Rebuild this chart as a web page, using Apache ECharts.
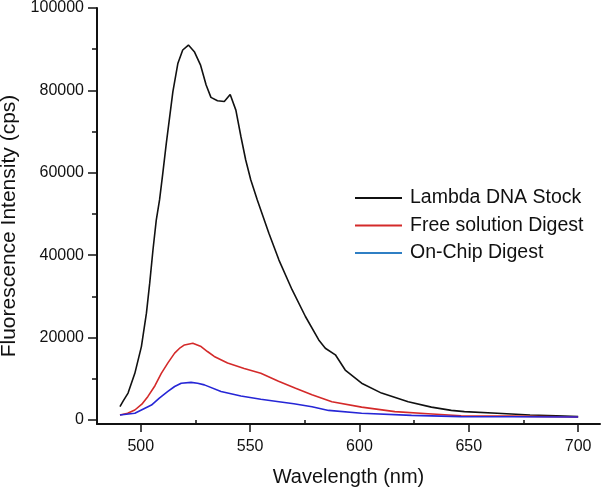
<!DOCTYPE html>
<html>
<head>
<meta charset="utf-8">
<script src="https://cdn.jsdelivr.net/npm/echarts@6/dist/echarts.min.js"></script>
<style>
html,body{margin:0;padding:0;background:#fff;}
#chart{width:604px;height:491px;}
</style>
</head>
<body>
<div id="chart"></div>
<script>
var xMajorTicks = [500, 550, 600, 650, 700];
var xMinorTicks = [525, 575, 625, 675];
var yMajorTicks = [0, 20000, 40000, 60000, 80000, 100000];
var yMinorTicks = [10000, 30000, 50000, 70000, 90000];

var seriesNames = ['Lambda DNA Stock', 'Free solution Digest', 'On-Chip Digest'];

var stockWl  = [490.5, 492, 494.2, 497.3, 500.3, 502.6, 504.1, 505.6, 507.1, 508.6, 510, 511.7, 514.7, 517, 519.2, 521.8, 524.5, 527.3, 529.9, 532.1, 535.1, 538.2, 540.9, 543.5, 545.8, 548, 550.3, 553.3, 558.6, 563.2, 569.2, 575.3, 581.4, 584.4, 589, 593.5, 601, 610.1, 622.3, 632.9, 642, 648, 663, 678, 690, 700];
var stockVal = [3200, 4600, 6500, 11300, 17800, 25900, 33200, 41300, 48500, 53400, 59500, 67200, 79700, 86600, 89800, 91000, 89400, 86200, 81300, 78300, 77500, 77300, 79000, 75200, 68800, 63100, 58300, 53400, 45300, 38800, 31600, 25100, 19400, 17400, 15800, 12100, 8900, 6500, 4400, 3100, 2300, 2000, 1600, 1200, 1000, 800];

var freeWl  = [490.5, 494, 497.3, 500.5, 503.3, 506.5, 509.4, 512.5, 515.5, 518, 520, 523.8, 527.6, 530.5, 533.6, 539.7, 547.3, 554.9, 563, 570.8, 578.3, 587.4, 601, 616.2, 631.4, 646.5, 670, 700];
var freeVal = [1200, 1600, 2400, 3800, 5700, 8300, 11300, 13900, 16200, 17500, 18200, 18600, 17800, 16600, 15400, 13800, 12500, 11300, 9400, 7700, 6100, 4400, 3100, 2000, 1500, 1000, 900, 700];

var chipWl  = [490.5, 497.3, 504.9, 508.5, 512.4, 515.5, 518.5, 523, 526, 529.1, 536.7, 545.8, 554.9, 563.2, 570, 578.3, 585.9, 601, 623.8, 646.5, 670, 700];
var chipVal = [1200, 1600, 3600, 5300, 6900, 8100, 8900, 9100, 8900, 8500, 6900, 5800, 5000, 4400, 3900, 3200, 2300, 1600, 1100, 800, 750, 700];

function zip(a, b) { return a.map(function (v, i) { return [v, b[i]]; }); }

var FONT = 'Liberation Sans, Arial, sans-serif';
var chart = echarts.init(document.getElementById('chart'), null, {renderer: 'canvas'});
chart.setOption({
  animation: false,
  backgroundColor: '#fff',
  grid: {left: 97, right: 4, top: 8, bottom: 67, containLabel: false, outerBoundsMode: 'none'},
  legend: {
    orient: 'vertical',
    left: 355,
    top: 187,
    padding: 0,
    icon: 'rect',
    itemWidth: 47,
    itemHeight: 2,
    itemGap: 5.5,
    textStyle: {fontFamily: FONT, fontSize: 19.5, color: '#111', padding: [0, 0, 0, 3], lineHeight: 22},
    data: [
      {name: seriesNames[0]},
      {name: seriesNames[1]},
      {name: seriesNames[2], itemStyle: {color: '#2f7fc4'}}
    ]
  },
  xAxis: [{
    type: 'value', min: 480, max: 710,
    axisLine: {show: true, onZero: false, lineStyle: {color: '#111', width: 2}},
    axisTick: {show: true, customValues: xMajorTicks, length: 8, lineStyle: {color: '#111', width: 1.5}},
    axisLabel: {customValues: xMajorTicks, margin: 15, fontFamily: FONT, fontSize: 16, color: '#111'},
    splitLine: {show: false},
    name: 'Wavelength (nm)', nameLocation: 'middle', nameGap: 43,
    nameTextStyle: {fontFamily: FONT, fontSize: 20, color: '#111'}
  }, {
    type: 'value', min: 480, max: 710, position: 'bottom',
    axisLine: {show: false},
    axisTick: {show: true, customValues: xMinorTicks, length: 5, lineStyle: {color: '#111', width: 1.5}},
    axisLabel: {show: false},
    splitLine: {show: false}
  }],
  yAxis: [{
    type: 'value', min: -1000, max: 100000,
    axisLine: {show: true, onZero: false, lineStyle: {color: '#111', width: 2}},
    axisTick: {show: true, customValues: yMajorTicks, length: 9, lineStyle: {color: '#111', width: 1.5}},
    axisLabel: {customValues: yMajorTicks, margin: 13, fontFamily: FONT, fontSize: 16, color: '#111',
      formatter: function (v) { return String(v); }},
    splitLine: {show: false},
    name: 'Fluorescence Intensity (cps)', nameLocation: 'middle', nameGap: 74, nameRotate: 90,
    nameTextStyle: {fontFamily: FONT, fontSize: 21, color: '#111', padding: [0, 20, 0, 0]}
  }, {
    type: 'value', min: -1000, max: 100000, position: 'left',
    axisLine: {show: false},
    axisTick: {show: true, customValues: yMinorTicks, length: 5, lineStyle: {color: '#111', width: 1.5}},
    axisLabel: {show: false},
    splitLine: {show: false}
  }],
  series: [
    {name: seriesNames[0], type: 'line', data: zip(stockWl, stockVal), showSymbol: false, symbol: 'none',
     lineStyle: {color: '#111', width: 1.6}, itemStyle: {color: '#111'}},
    {name: seriesNames[1], type: 'line', data: zip(freeWl, freeVal), showSymbol: false, symbol: 'none',
     lineStyle: {color: '#d42a2a', width: 1.6}, itemStyle: {color: '#d42a2a'}},
    {name: seriesNames[2], type: 'line', data: zip(chipWl, chipVal), showSymbol: false, symbol: 'none',
     lineStyle: {color: '#2626d6', width: 1.6}, itemStyle: {color: '#2626d6'}}
  ]
});
</script>
</body>
</html>
